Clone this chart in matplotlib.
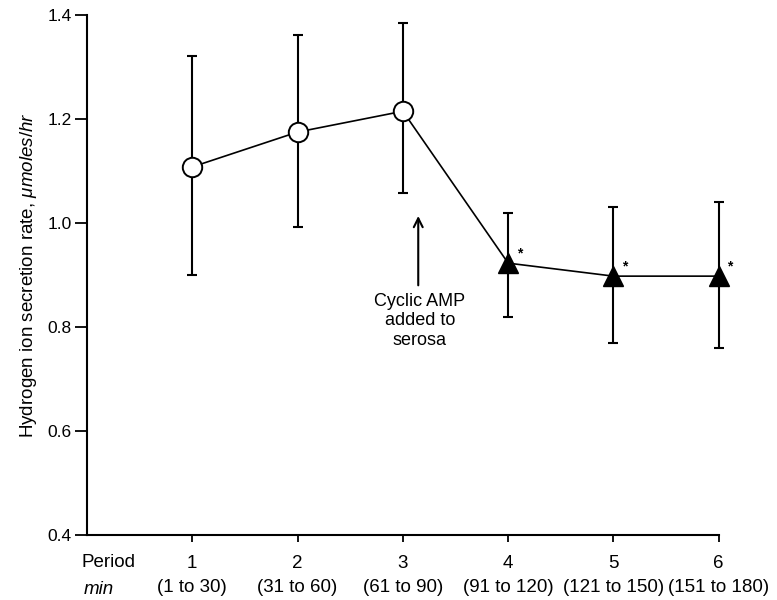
import matplotlib
matplotlib.use('Agg')
import matplotlib.pyplot as plt

plt.rcParams['font.family'] = ['Liberation Sans', 'DejaVu Sans']
plt.rcParams['mathtext.fontset'] = 'custom'
plt.rcParams['mathtext.it'] = 'Liberation Sans:italic'
plt.rcParams['mathtext.rm'] = 'Liberation Sans'

# data
period = [1, 2, 3, 4, 5, 6]
minutes = ['(1 to 30)', '(31 to 60)', '(61 to 90)', '(91 to 120)',
           '(121 to 150)', '(151 to 180)']
rate = [1.108, 1.175, 1.215, 0.923, 0.898, 0.898]
err_hi = [1.321, 1.362, 1.385, 1.019, 1.031, 1.040]
err_lo = [0.900, 0.993, 1.058, 0.819, 0.769, 0.760]
signif = [False, False, False, True, True, True]

fig = plt.figure(figsize=(7.77, 6.0), dpi=100)
ax = fig.add_axes([0.112, 0.108, 0.813, 0.867])

yerr = [[r - lo for r, lo in zip(rate, err_lo)],
        [hi - r for r, hi in zip(rate, err_hi)]]
eb = ax.errorbar(period, rate, yerr=yerr, fmt='none', ecolor='black',
                 elinewidth=1.5, capsize=3.3, capthick=1.5, zorder=2)
for art in eb.lines[1] + eb.lines[2]:
    art.set_clip_on(False)
ax.plot(period, rate, color='black', lw=1.2, zorder=3, clip_on=False)

before = [p for p, s in zip(period, signif) if not s]
after = [p for p, s in zip(period, signif) if s]
ax.plot(before, [r for r, s in zip(rate, signif) if not s], 'o',
        ms=14, mfc='white', mec='black', mew=1.4, zorder=4)
ax.plot(after, [r for r, s in zip(rate, signif) if s], '^',
        ms=14, mfc='black', mec='black', zorder=4, clip_on=False)

for p, r, s in zip(period, rate, signif):
    if s:
        ax.annotate('*', xy=(p, r), xytext=(8, 2), textcoords='offset points',
                    fontsize=10, fontweight='bold', ha='center', va='bottom',
                    annotation_clip=False)

# cyclic AMP addition
ax.annotate('', xy=(3.146, 1.019), xytext=(3.146, 0.875),
            arrowprops=dict(arrowstyle='->', lw=1.5, color='black',
                            mutation_scale=16))
ax.text(3.16, 0.866, 'Cyclic AMP\nadded to\nserosa', ha='center', va='top',
        fontsize=13, linespacing=1.2)

ax.set_xlim(0, 6)
ax.set_ylim(0.4, 1.4)
ax.set_yticks([0.4, 0.6, 0.8, 1.0, 1.2, 1.4])
ax.set_yticklabels(['0.4', '0.6', '0.8', '1.0', '1.2', '1.4'])
ax.set_xticks(period)
ax.set_xticklabels([f'{p}\n{m}' for p, m in zip(period, minutes)],
                   linespacing=1.6)

for side in ['top', 'right']:
    ax.spines[side].set_visible(False)
for side in ['left', 'bottom']:
    ax.spines[side].set_linewidth(1.5)
ax.tick_params(axis='y', direction='out', length=9, width=1.3,
               labelsize=12.5, pad=2)
ax.tick_params(axis='x', direction='out', length=5, width=1.3,
               labelsize=13.5, pad=9)

tx = ax.get_xaxis_transform()
ax.text(-0.05, -0.052, 'Period', transform=tx, fontsize=13.5,
        ha='left', va='center', clip_on=False)
ax.text(-0.03, -0.104, 'min', style='italic', transform=tx, fontsize=13.5,
        ha='left', va='center', clip_on=False)

ax.set_ylabel('Hydrogen ion secretion rate, $\\mathit{μmoles/hr}$',
              fontsize=13.5, labelpad=6)

fig.savefig('out.png', dpi=100)
